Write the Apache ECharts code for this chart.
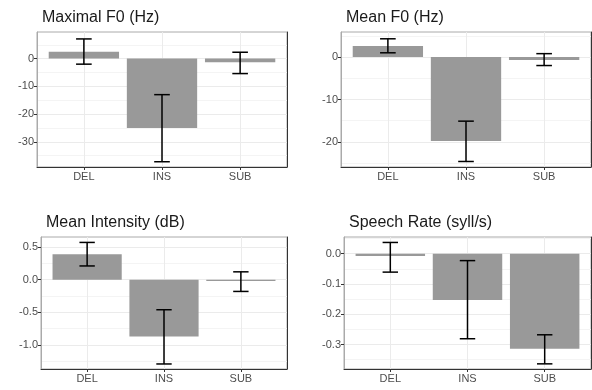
<!DOCTYPE html>
<html><head><meta charset="utf-8">
<script src="https://cdn.jsdelivr.net/npm/echarts@6/dist/echarts.min.js"></script>
<style>html,body{margin:0;padding:0;background:#fff}#c{width:592px;height:390px}</style>
</head><body><div id="c"></div>
<script>
const categories = ['DEL', 'INS', 'SUB'];
const titles = ['Maximal F0 (Hz)', 'Mean F0 (Hz)', 'Mean Intensity (dB)', 'Speech Rate (syll/s)'];

const maxF0 = [2.5, -25.0, -1.3];
const maxF0Low = [-2.0, -37.2, -5.4];
const maxF0High = [7.1, -13.0, 2.3];

const meanF0 = [2.6, -19.8, -0.7];
const meanF0Low = [1.0, -24.6, -2.0];
const meanF0High = [4.3, -15.1, 0.8];

const intensity = [0.39, -0.87, -0.02];
const intensityLow = [0.21, -1.29, -0.18];
const intensityHigh = [0.57, -0.46, 0.12];

const rate = [-0.008, -0.153, -0.314];
const rateLow = [-0.061, -0.281, -0.364];
const rateHigh = [0.037, -0.023, -0.268];

const yMajorTicks = [[0, -10, -20, -30], [0, -10, -20], [0.5, 0.0, -0.5, -1.0], [0.0, -0.1, -0.2, -0.3]];
const yMinorTicks = [[5, -5, -15, -25, -35], [5, -5, -15, -25], [0.25, -0.25, -0.75, -1.25], [0.05, -0.05, -0.15, -0.25, -0.35]];
const yLimits = [[-39.1, 9.6], [-25.9, 5.9], [-1.367, 0.653], [-0.381, 0.055]];
const yDecimals = [0, 0, 1, 1];

const panels = [
  [maxF0, maxF0Low, maxF0High],
  [meanF0, meanF0Low, meanF0High],
  [intensity, intensityLow, intensityHigh],
  [rate, rateLow, rateHigh]
];

const grids = [
  {left: 37, top: 32, width: 250, height: 135},
  {left: 341, top: 32, width: 250, height: 135},
  {left: 41, top: 237, width: 246, height: 132},
  {left: 344, top: 237, width: 247, height: 132}
];

const font = '"Liberation Sans", Arial, sans-serif';
const chart = echarts.init(document.getElementById('c'), null, {renderer: 'canvas'});

const option = {
  backgroundColor: '#ffffff',
  animation: false,
  title: [], grid: [], xAxis: [], yAxis: [], series: []
};

panels.forEach((p, i) => {
  const g = grids[i];
  option.title.push({
    text: titles[i], left: g.left, top: g.top - 27,
    textStyle: {fontFamily: font, fontSize: 16, fontWeight: 'normal', color: '#1a1a1a'}
  });
  option.grid.push(Object.assign({show: true, borderColor: '#aaaaaa', borderWidth: 1, backgroundColor: '#ffffff'}, g));
  option.xAxis.push({
    type: 'value', gridIndex: i, min: 0.4, max: 3.6,
    axisLine: {show: true, onZero: false, lineStyle: {color: '#333333', width: 1}},
    axisTick: {show: true, length: 3, customValues: [1, 2, 3], lineStyle: {color: '#333333'}},
    axisLabel: {show: true, customValues: [1, 2, 3], margin: 4, color: '#4d4d4d', fontFamily: font, fontSize: 11,
      formatter: v => categories[Math.round(v) - 1]},
    splitLine: {show: true, lineStyle: {color: '#ebebeb', width: 1}}
  });
  const dec = yDecimals[i];
  option.yAxis.push({
    type: 'value', gridIndex: i, min: yLimits[i][0], max: yLimits[i][1], position: 'left',
    axisLine: {show: true, onZero: false, lineStyle: {color: '#aaaaaa', width: 1}},
    axisTick: {show: true, length: 3, customValues: yMajorTicks[i], lineStyle: {color: '#333333'}},
    axisLabel: {show: true, customValues: yMajorTicks[i], margin: 3, color: '#4d4d4d', fontFamily: font, fontSize: 11,
      formatter: v => Number(v).toFixed(dec)},
    splitLine: {show: true, lineStyle: {color: '#ebebeb', width: 1}}
  });
  option.yAxis.push({
    type: 'value', gridIndex: i, min: yLimits[i][0], max: yLimits[i][1], position: 'right',
    axisLine: {show: true, onZero: false, lineStyle: {color: '#333333', width: 1}},
    axisTick: {show: false, customValues: yMinorTicks[i]},
    axisLabel: {show: false, customValues: yMinorTicks[i]},
    splitLine: {show: true, lineStyle: {color: '#f4f4f4', width: 1}}
  });
  const data = p[0].map((v, k) => [k + 1, v, p[1][k], p[2][k]]);
  option.series.push({
    type: 'custom', xAxisIndex: i, yAxisIndex: 2 * i, data: data, encode: {x: 0, y: 1},
    renderItem: (params, api) => {
      const x = api.value(0), v = api.value(1);
      const a = api.coord([x - 0.45, v]);
      const b = api.coord([x + 0.45, 0]);
      return {type: 'rect', shape: {x: a[0], y: Math.min(a[1], b[1]), width: b[0] - a[0], height: Math.abs(b[1] - a[1])},
        style: {fill: '#999999'}};
    }
  });
  option.series.push({
    type: 'custom', xAxisIndex: i, yAxisIndex: 2 * i, data: data, encode: {x: 0, y: [2, 3]}, z: 3,
    renderItem: (params, api) => {
      const x = api.value(0), lo = api.value(2), hi = api.value(3);
      const pl = api.coord([x, lo]), ph = api.coord([x, hi]);
      const l1 = api.coord([x - 0.1, lo]), r1 = api.coord([x + 0.1, lo]);
      const l2 = api.coord([x - 0.1, hi]), r2 = api.coord([x + 0.1, hi]);
      const st = {stroke: '#000000', lineWidth: 1.5, fill: null};
      return {type: 'group', children: [
        {type: 'line', shape: {x1: pl[0], y1: pl[1], x2: ph[0], y2: ph[1]}, style: st},
        {type: 'line', shape: {x1: l1[0], y1: l1[1], x2: r1[0], y2: r1[1]}, style: st},
        {type: 'line', shape: {x1: l2[0], y1: l2[1], x2: r2[0], y2: r2[1]}, style: st}
      ]};
    }
  });
});

chart.setOption(option);
</script></body></html>
